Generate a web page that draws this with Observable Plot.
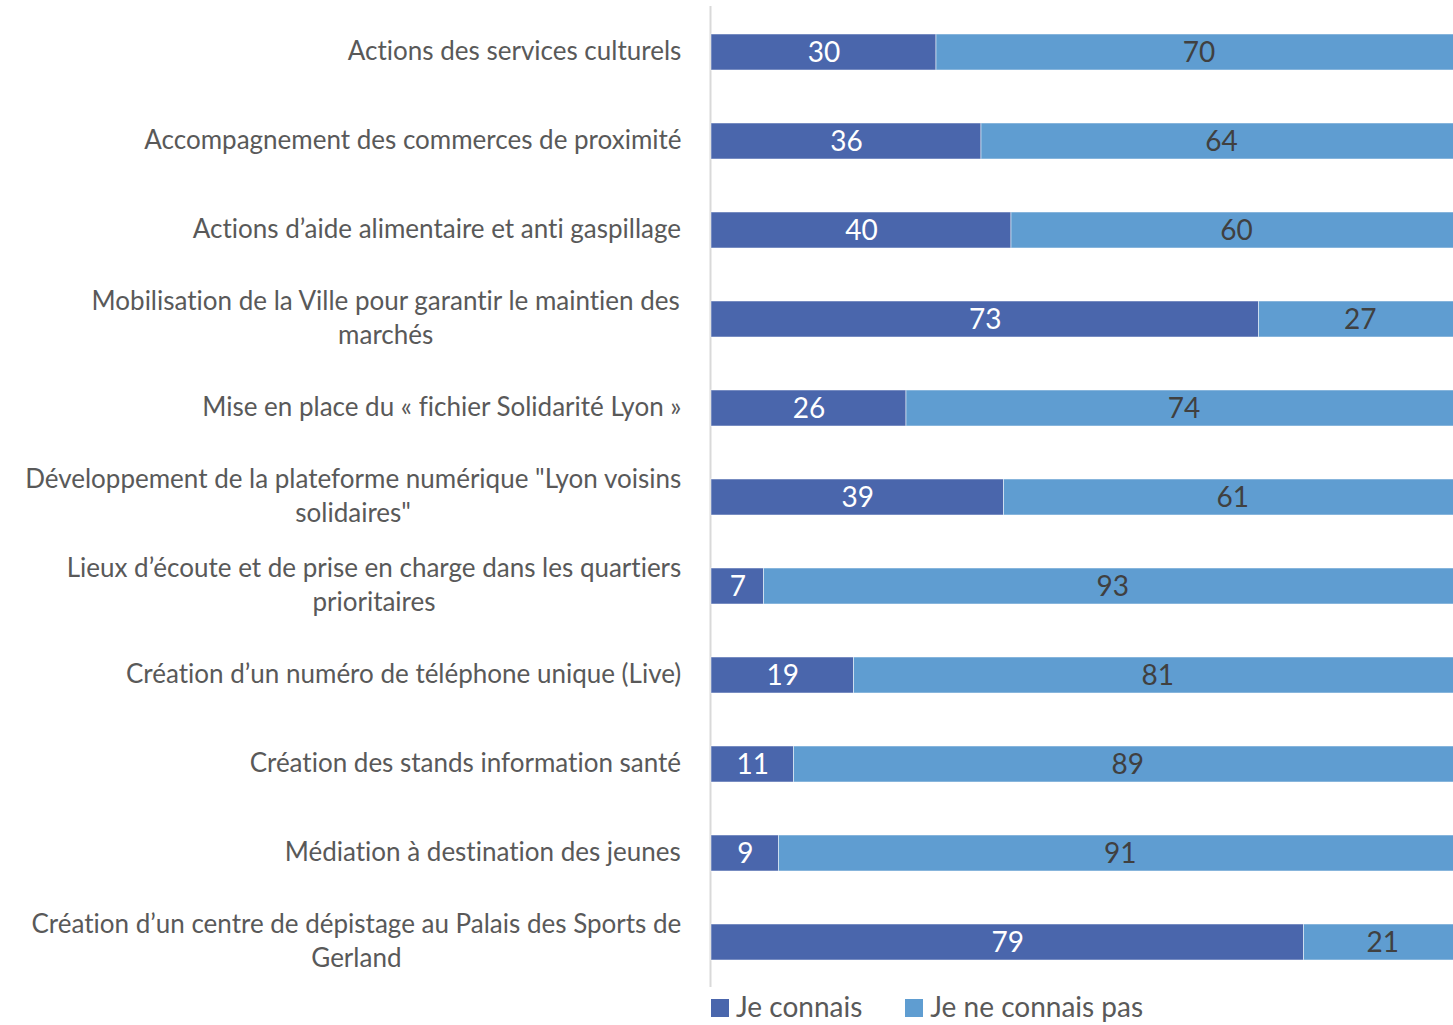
<!DOCTYPE html>
<html><head><meta charset="utf-8">
<script src="https://cdn.jsdelivr.net/npm/d3@7"></script>
<script src="https://cdn.jsdelivr.net/npm/@observablehq/plot@0.6"></script>
<style>
body{margin:0;background:#fff;font-family:Lato, sans-serif;}
#chart{position:relative;width:1453px;height:1025px;overflow:hidden}
#chart svg{display:block;font-variant-ligatures:none}
.legend{position:absolute;top:992px;left:711px;height:29px;display:flex;align-items:center;font-size:28px;color:#595959;font-family:Lato, sans-serif;white-space:nowrap}
.legend .sw{display:block;width:18px;height:18px;margin-right:7px;margin-top:3px}
.legend .lbl{display:block;height:29px;line-height:29px}
.legend .item{display:flex;align-items:center;margin-right:43px}
</style></head><body><div id="chart"></div>
<script>
const categories = [
  "Actions des services culturels",
  "Accompagnement des commerces de proximité",
  "Actions d’aide alimentaire et anti gaspillage",
  "Mobilisation de la Ville pour garantir le maintien des\nmarchés",
  "Mise en place du « fichier Solidarité Lyon »",
  "Développement de la plateforme numérique \"Lyon voisins\nsolidaires\"",
  "Lieux d’écoute et de prise en charge dans les quartiers\nprioritaires",
  "Création d’un numéro de téléphone unique (Live)",
  "Création des stands information santé",
  "Médiation à destination des jeunes",
  "Création d’un centre de dépistage au Palais des Sports de\nGerland"
];
const connais    = [30, 36, 40, 73, 26, 39, 7, 19, 11, 9, 79];
const connaisPas = [70, 64, 60, 27, 74, 61, 93, 81, 89, 91, 21];
const seriesNames = ["Je connais", "Je ne connais pas"];
const seriesColors = ["#4A66AC", "#5F9DD1"];
const labelColors = ["#FFFFFF", "#404040"];

const data = categories.flatMap((c, i) => [
  {item: c, series: 0, value: connais[i]},
  {item: c, series: 1, value: connaisPas[i]}
]);

const labelFont = 26;
const ctx = document.createElement("canvas").getContext("2d");
ctx.font = `${labelFont}px Lato`;
const labelMarks = categories.map(c => {
  const w = Math.max(...c.split("\n").map(l => ctx.measureText(l).width));
  return Plot.text([c], {
    x: () => 0, y: d => d, text: d => d,
    textAnchor: "middle", lineAnchor: "middle",
    dx: -(30 + w / 2), dy: -3, fontSize: labelFont, lineHeight: 1.31,
    fill: "#595959", fontFamily: "Lato"
  });
});

const plot = Plot.plot({
  width: 1453, height: 992,
  marginTop: 6, marginBottom: 5, marginLeft: 0, marginRight: 0,
  x: {domain: [0, 100], range: [711, 1461], axis: null},
  y: {domain: categories, range: [6.5, 986.5], paddingInner: 0.6, paddingOuter: 0.3, axis: null},
  style: {fontFamily: "Lato", background: "white"},
  marks: [
    Plot.ruleX([0], {stroke: "#d9d9d9", strokeWidth: 2, dx: -1}),
    Plot.barX(data, Plot.stackX({
      x: "value", y: "item", z: "series",
      fill: d => seriesColors[d.series],
      stroke: "#ffffff", strokeOpacity: 0.5, strokeWidth: 1
    })),
    Plot.text(data, Plot.stackX({
      x: "value", y: "item", z: "series",
      text: d => String(d.value),
      fill: d => labelColors[d.series],
      fontSize: 28, dy: 1, fontFamily: "Lato"
    })),
    ...labelMarks
  ]
});
const chart = document.getElementById("chart");
chart.appendChild(plot);

const legend = document.createElement("div");
legend.className = "legend";
seriesNames.forEach((n, i) => {
  const it = document.createElement("div");
  it.className = "item";
  it.innerHTML = `<span class="sw" style="background:${seriesColors[i]}"></span><span class="lbl">${n}</span>`;
  legend.appendChild(it);
});
chart.appendChild(legend);
</script>
</body></html>
